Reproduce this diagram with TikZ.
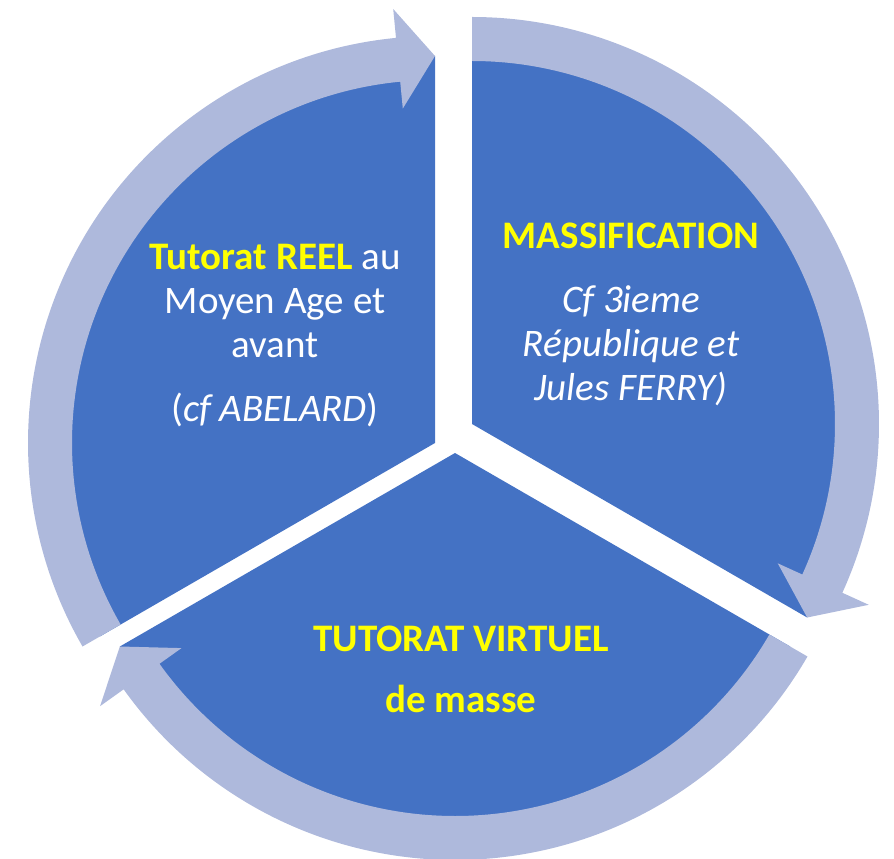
\documentclass[tikz,border=0pt]{standalone}
\usepackage{fontspec}
\setmainfont{Carlito}
\usepackage{xcolor}
\usetikzlibrary{calc}
\definecolor{secblue}{RGB}{68,114,196}
\definecolor{ringblue}{RGB}{174,185,220}
\definecolor{hiyellow}{RGB}{255,255,0}

\begin{document}
\begin{tikzpicture}[x=0.5pt, y=0.5pt,
    sector/.style={fill=secblue},
    ring/.style={fill=ringblue},
    txt/.style={text=white, align=center, anchor=base, inner sep=0pt,
      font=\fontsize{19.5}{22}\selectfont}]
    \useasboundingbox (0,0) rectangle (894,858);
    \coordinate (cleft) at (435,415);
    \coordinate (cright) at (472,434);
    \coordinate (cbot) at (455,405);

    % the three parts (their rims run under the arrows)
    \fill[sector] (cleft) -- ++(90:387) arc[start angle=90, end angle=210, radius=387] -- cycle;
    \fill[sector] (cright) -- ++(-30:387) arc[start angle=-30, end angle=90, radius=387] -- cycle;
    \fill[sector] (cbot) -- ++(210:387) arc[start angle=210, end angle=330, radius=387] -- cycle;

    % arrows round them
    \fill[ring] ($(cleft)+(210:363)$) arc[start angle=210, end angle=95.5, radius=363]
        -- ($(cleft)+(95.5:336)$) -- ($(cleft)+(90:387)$) -- ($(cleft)+(95.5:436)$)
        -- ($(cleft)+(95.5:407)$) arc[start angle=95.5, end angle=210, radius=407] -- cycle;
    \fill[ring] ($(cright)+(90:363)$) arc[start angle=90, end angle=-24.5, radius=363]
        -- ($(cright)+(-24.5:336)$) -- ($(cright)+(-30:387)$) -- ($(cright)+(-24.5:436)$)
        -- ($(cright)+(-24.5:407)$) arc[start angle=-24.5, end angle=90, radius=407] -- cycle;
    \fill[ring] ($(cbot)+(330:363)$) arc[start angle=330, end angle=215.5, radius=363]
        -- ($(cbot)+(215.5:336)$) -- ($(cbot)+(210:387)$) -- ($(cbot)+(215.5:436)$)
        -- ($(cbot)+(215.5:407)$) arc[start angle=215.5, end angle=330, radius=407] -- cycle;

    \node[txt] (moyenage) at (275,437) {\textbf{\color{hiyellow}Tutorat REEL} au\\Moyen Age et\\avant\\[10pt](\textit{cf ABELARD})};
    \node[txt] (massif) at (631,458) {\textbf{\color{hiyellow}MASSIFICATION}\\[10pt]\textit{Cf 3ieme}\\\textit{République et}\\\textit{Jules FERRY)}};
    \node[txt, text=hiyellow, font={\fontsize{19.5}{22}\selectfont\bfseries}] (virtuel) at (461,146) {TUTORAT VIRTUEL\\[8.5pt]de masse};
\end{tikzpicture}
\end{document}
